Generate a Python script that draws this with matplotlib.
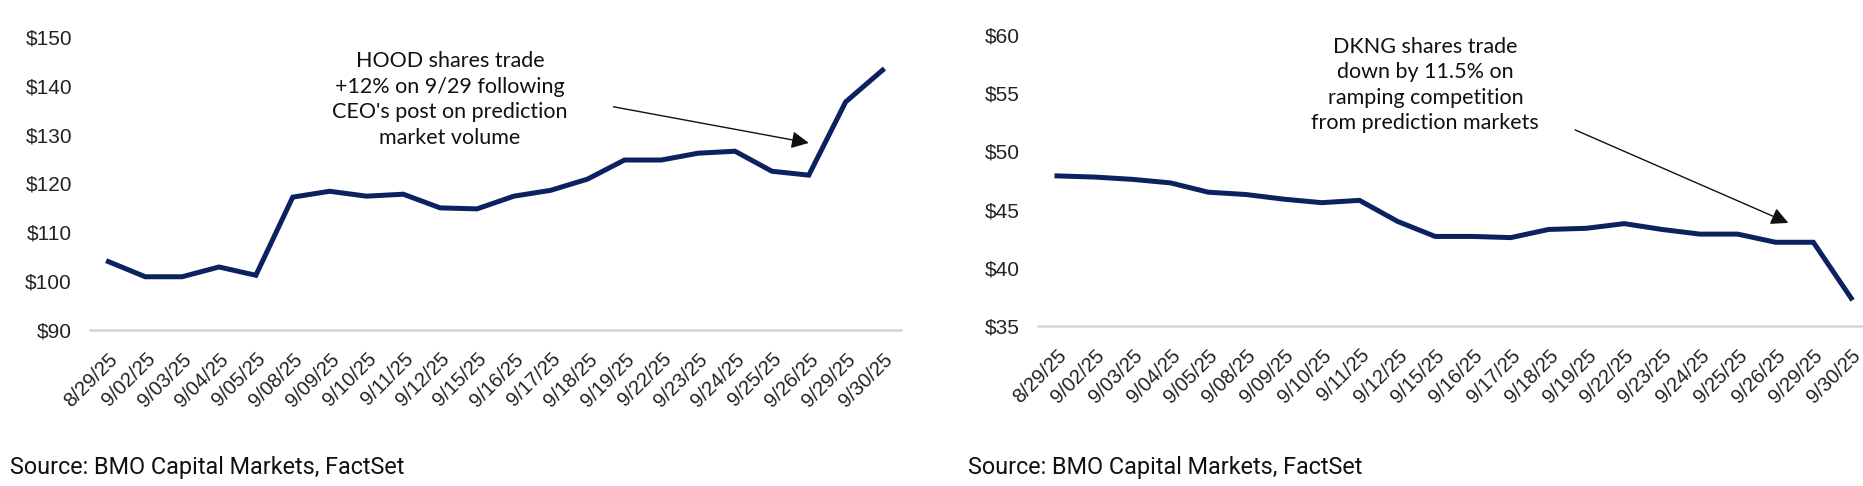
import numpy as np
import matplotlib.pyplot as plt

# data
dates = ['8/29/25', '9/02/25', '9/03/25', '9/04/25', '9/05/25', '9/08/25', '9/09/25',
         '9/10/25', '9/11/25', '9/12/25', '9/15/25', '9/16/25', '9/17/25', '9/18/25',
         '9/19/25', '9/22/25', '9/23/25', '9/24/25', '9/25/25', '9/26/25', '9/29/25',
         '9/30/25']
hood = [104.0, 100.9, 100.9, 102.9, 101.2, 117.2, 118.4, 117.4, 117.8, 115.0, 114.8,
        117.4, 118.6, 120.9, 124.8, 124.8, 126.2, 126.6, 122.5, 121.7, 136.7, 143.2]
dkng = [47.9, 47.8, 47.6, 47.3, 46.5, 46.3, 45.9, 45.6, 45.8, 44.0, 42.7, 42.7, 42.6,
        43.3, 43.4, 43.8, 43.3, 42.9, 42.9, 42.2, 42.2, 37.4]
hood_ticks = [90, 100, 110, 120, 130, 140, 150]
dkng_ticks = [35, 40, 45, 50, 55, 60]

hood_note = "HOOD shares trade\n+12% on 9/29 following\nCEO's post on prediction\nmarket volume"
dkng_note = "DKNG shares trade\ndown by 11.5% on\nramping competition\nfrom prediction markets"
source = "Source: BMO Capital Markets, FactSet"

NAVY = '#0c2260'
GRID = '#d9d9d9'
TICK_FONT = ['Liberation Sans', 'DejaVu Sans']
NOTE_FONT = ['Lato', 'DejaVu Sans']
SRC_FONT = ['Roboto', 'DejaVu Sans']

fig = plt.figure(figsize=(18.63, 4.86), dpi=100)
ax1 = fig.add_axes([0.0483, 0.321, 0.4353, 0.603])
ax2 = fig.add_axes([0.5572, 0.329, 0.4466, 0.599])

x = np.arange(len(dates))


def style_axis(ax, values, yticks):
    ax.plot(x, values, color=NAVY, lw=3.6, solid_joinstyle='miter', zorder=3)
    ax.set_xlim(-0.5, len(dates) - 0.5)
    ax.set_ylim(yticks[0], yticks[-1])
    ax.set_yticks(yticks)
    ax.set_yticklabels([f'${t}' for t in yticks], family=TICK_FONT, fontsize=15)
    ax.set_xticks(x)
    ax.set_xticklabels(dates, rotation=45, ha='right', rotation_mode='anchor',
                       family=TICK_FONT, fontsize=14.5)
    ax.tick_params(axis='both', length=0, colors='#222222')
    ax.tick_params(axis='y', pad=13)
    ax.tick_params(axis='x', pad=14)
    for s in ax.spines.values():
        s.set_visible(False)
    ax.axhline(yticks[0], color=GRID, lw=2, zorder=1, clip_on=False)


style_axis(ax1, hood, hood_ticks)
style_axis(ax2, dkng, dkng_ticks)

arrow = dict(arrowstyle='-|>', color='#111111', lw=1.0, mutation_scale=26,
             shrinkA=0, shrinkB=0)
ax1.text(9.27, 137.2, hood_note, ha='center', va='center', multialignment='center',
         family=NOTE_FONT, fontsize=15.5, linespacing=1.35, color='#111111')
ax1.annotate('', xy=(19.0, 128.3), xytext=(13.7, 135.7), arrowprops=arrow)

ax2.text(9.74, 55.7, dkng_note, ha='center', va='center', multialignment='center',
         family=NOTE_FONT, fontsize=15.5, linespacing=1.35, color='#111111')
ax2.annotate('', xy=(19.34, 43.86), xytext=(13.7, 51.85), arrowprops=arrow)

fig.text(10 / 1863, 1 - 467 / 486, source, ha='left', va='center',
         family=SRC_FONT, fontsize=16.8, color='#111111')
fig.text(968 / 1863, 1 - 467 / 486, source, ha='left', va='center',
         family=SRC_FONT, fontsize=16.8, color='#111111')

fig.savefig('out.png', dpi=100, facecolor='white')
